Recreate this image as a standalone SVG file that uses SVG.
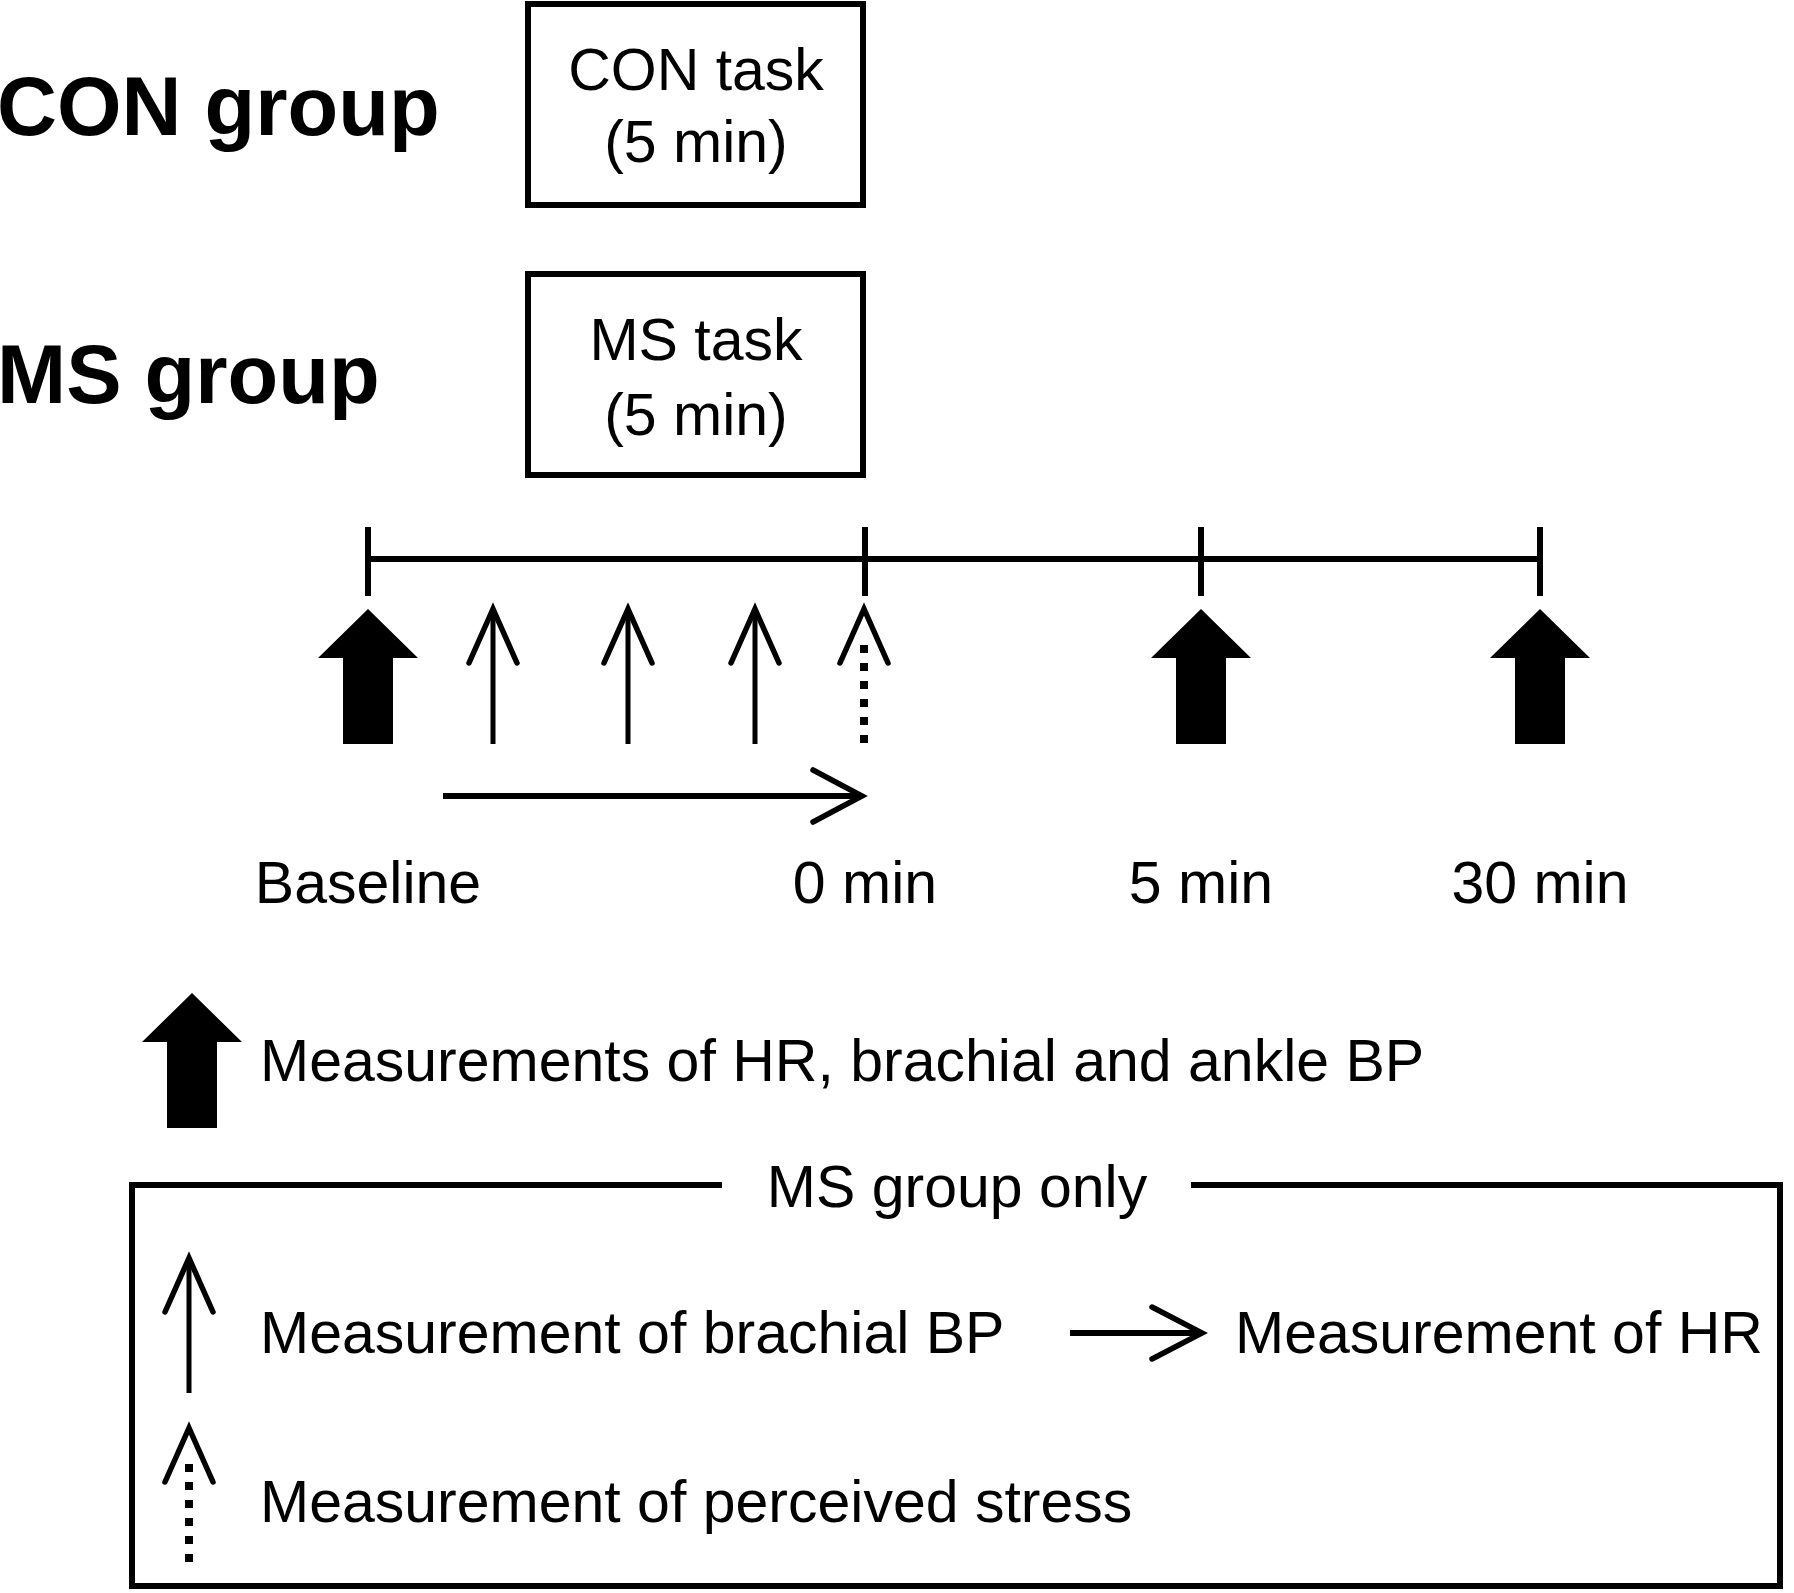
<svg xmlns="http://www.w3.org/2000/svg" width="1794" height="1593" viewBox="0 0 1794 1593">
<style>
.bg{fill:#fff}
.box{fill:none;stroke:#000;stroke-width:6}
.grp{font-family:"Liberation Sans",Arial,sans-serif;font-weight:bold;font-size:83px;fill:#000}
.t{font-family:"Liberation Sans",Arial,sans-serif;font-size:59px;fill:#000}
.mid{text-anchor:middle}
.line{stroke:#000;stroke-width:6;fill:none}
.thin{stroke:#000;stroke-width:5;fill:none}
.head{stroke:#000;stroke-width:5.5;fill:none;stroke-linecap:round;stroke-linejoin:miter}
.dash{stroke:#000;stroke-width:8;fill:none;stroke-dasharray:8 10}
.thick{fill:#000}
</style>
<defs>
<polygon id="thickArrow" class="thick" points="0,0 50,49 25,49 25,135 -25,135 -25,49 -50,49"/>
<g id="thinArrow">
<line class="thin" x1="0" y1="135" x2="0" y2="4"/>
<polyline class="head" points="-24,54 0,0 24,54"/>
</g>
<g id="dashArrow">
<line class="dash" x1="0" y1="134" x2="0" y2="36"/>
<polyline class="head" points="-24,54 0,0 24,54"/>
</g>
</defs>
<rect class="bg" x="0" y="0" width="1794" height="1593"/>

<g id="con-group-label"><text class="grp" x="-3" y="135">CON group</text></g>
<g id="ms-group-label"><text class="grp" x="-3" y="403">MS group</text></g>

<g id="con-task">
<rect class="box" x="528" y="4" width="335" height="201"/>
<text class="t mid" x="696" y="90">CON task</text>
<text class="t mid" x="696" y="162">(5 min)</text>
</g>
<g id="ms-task">
<rect class="box" x="528" y="274" width="335" height="201"/>
<text class="t mid" x="696" y="360">MS task</text>
<text class="t mid" x="696" y="435">(5 min)</text>
</g>

<g id="timeline">
<line class="line" x1="368" y1="559" x2="1540" y2="559"/>
<line class="line" x1="368" y1="527" x2="368" y2="596"/>
<line class="line" x1="865" y1="527" x2="865" y2="596"/>
<line class="line" x1="1201" y1="527" x2="1201" y2="596"/>
<line class="line" x1="1540" y1="527" x2="1540" y2="596"/>
</g>

<g id="measure-baseline"><use href="#thickArrow" x="368" y="609"/></g>
<g id="measure-bp1"><use href="#thinArrow" x="493" y="609"/></g>
<g id="measure-bp2"><use href="#thinArrow" x="628" y="609"/></g>
<g id="measure-bp3"><use href="#thinArrow" x="755" y="609"/></g>
<g id="measure-stress"><use href="#dashArrow" x="864" y="609"/></g>
<g id="measure-5"><use href="#thickArrow" x="1201" y="609"/></g>
<g id="measure-30"><use href="#thickArrow" x="1540" y="609"/></g>

<g id="connectors">
<line class="line" x1="443" y1="796" x2="858" y2="796"/>
<polyline class="head" stroke-width="6" points="813,770 862,796 813,822"/>
</g>

<g id="time-labels">
<text class="t mid" x="368" y="903">Baseline</text>
<text class="t mid" x="865" y="903">0 min</text>
<text class="t mid" x="1201" y="903">5 min</text>
<text class="t mid" x="1540" y="903">30 min</text>
</g>

<g id="legend-thick">
<use href="#thickArrow" x="192" y="993"/>
<text class="t" x="260" y="1081">Measurements of HR, brachial and ankle BP</text>
</g>

<g id="legend-ms">
<polyline class="box" points="722,1185 132,1185 132,1586 1780,1586 1780,1185 1191,1185"/>
<text class="t mid" x="957" y="1207">MS group only</text>
<use href="#thinArrow" x="189" y="1258"/>
<text class="t" x="260" y="1353">Measurement of brachial BP</text>
<line class="line" x1="1070" y1="1333" x2="1198" y2="1333"/>
<polyline class="head" stroke-width="6" points="1152,1307 1202,1333 1152,1359"/>
<text class="t" x="1235" y="1353">Measurement of HR</text>
<use href="#dashArrow" x="189" y="1428"/>
<text class="t" x="260" y="1522">Measurement of perceived stress</text>
</g>
</svg>
